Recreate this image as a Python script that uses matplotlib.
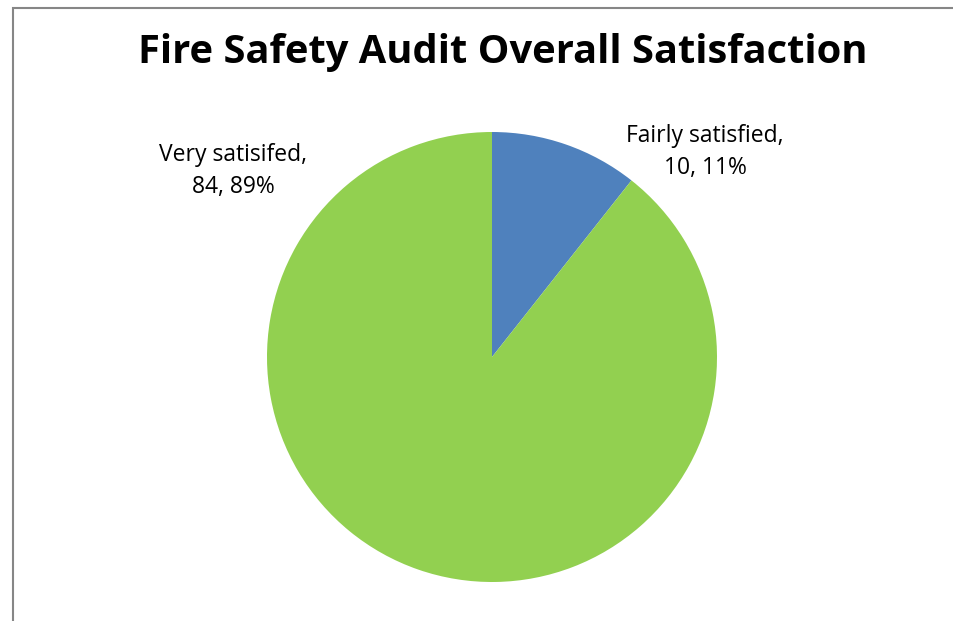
import matplotlib
import matplotlib.pyplot as plt
from matplotlib.patches import Rectangle

matplotlib.use("Agg")

# data
labels = ["Fairly satisfied", "Very satisifed"]
counts = [10, 84]
percents = [11, 89]
colors = ["#4F81BD", "#92D050"]

W, H = 954, 621
fig = plt.figure(figsize=(W / 100, H / 100), dpi=100)
fig.patch.set_facecolor("white")

# chart border (only top/left visible in the crop)
fig.patches.append(Rectangle((13.5 / W, -0.1), 1.2, (H - 7.5) / H + 0.1,
                             transform=fig.transFigure, fill=False,
                             edgecolor="#868686", linewidth=1.5))

# pie axes: center (492, 357), radius 225 px
cx, cy, r = 492, 357, 225
ax = fig.add_axes([(cx - r) / W, (H - cy - r) / H, 2 * r / W, 2 * r / H])
ax.pie(counts, colors=colors, startangle=90, counterclock=False,
       wedgeprops=dict(linewidth=0))
ax.set_aspect("equal")
ax.set_xlim(-1, 1)
ax.set_ylim(-1, 1)

fig.text(503 / W, 1 - 53 / H, "Fire Safety Audit Overall Satisfaction",
         ha="center", va="center", fontsize=28.7, fontweight="bold",
         family="Open Sans")

label_pos = [(705, 152), (233, 171)]
for lab, c, p, (x, y) in zip(labels, counts, percents, label_pos):
    fig.text(x / W, 1 - y / H, f"{lab},\n{c}, {p}%", ha="center", va="center",
             fontsize=16.5, family="Open Sans", linespacing=1.45)

fig.savefig("out.png", dpi=100)
